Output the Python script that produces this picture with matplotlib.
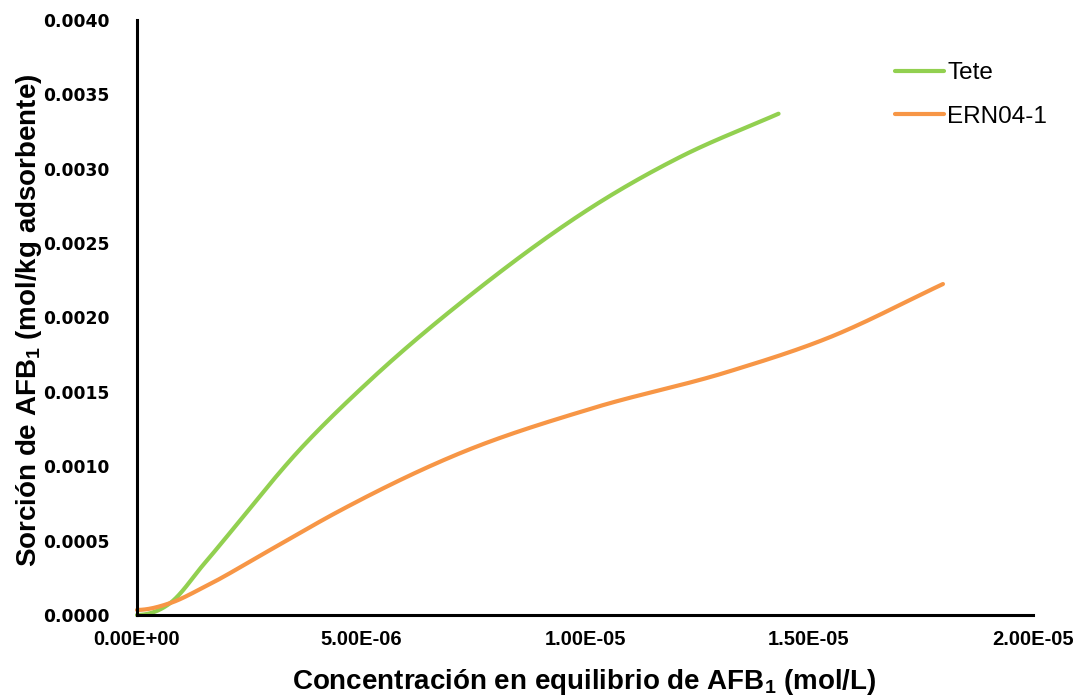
import numpy as np
import matplotlib
matplotlib.use("Agg")
import matplotlib.pyplot as plt
from matplotlib.ticker import FuncFormatter

plt.rcParams["mathtext.fontset"] = "custom"
plt.rcParams["mathtext.rm"] = "Liberation Sans:bold"
plt.rcParams["mathtext.default"] = "rm"

# Equilibrium concentration (mol/L) and sorbed amount (mol/kg adsorbent)
tete_x = [0.0, 7.4e-7, 1.50e-6, 3.73e-6, 5.21e-6, 7.44e-6, 1.057e-5, 1.213e-5, 1.432e-5]
tete_y = [0.0, 8.0e-5, 3.45e-4, 1.143e-3, 1.58e-3, 2.15e-3, 2.82e-3, 3.08e-3, 3.37e-3]

ern_x = [0.0, 7.4e-7, 1.50e-6, 2.97e-6, 4.47e-6, 7.22e-6, 1.019e-5, 1.318e-5, 1.542e-5, 1.799e-5]
ern_y = [3.4e-5, 8.0e-5, 1.88e-4, 4.37e-4, 6.92e-4, 1.089e-3, 1.392e-3, 1.634e-3, 1.862e-3, 2.225e-3]

series_names = ["Tete", "ERN04-1"]
series_colors = ["#92D050", "#F79646"]

x_ticks = [0.0, 5e-6, 1e-5, 1.5e-5, 2e-5]
y_ticks = [0.0, 0.0005, 0.0010, 0.0015, 0.0020, 0.0025, 0.0030, 0.0035, 0.0040]


def smooth(xs, ys, n=60):
    """Smoothed line: cubic Hermite segments through the points, flat at the origin."""
    x = np.asarray(xs, float)
    y = np.asarray(ys, float)
    h = np.diff(x)
    d = np.diff(y) / h
    m = np.empty_like(x)
    m[1:-1] = (h[:-1] * d[1:] + h[1:] * d[:-1]) / (h[:-1] + h[1:])
    m[0] = 0.0
    m[-1] = d[-1]
    px, py = [], []
    t = np.linspace(0, 1, n)
    for i in range(len(x) - 1):
        h00 = 2 * t**3 - 3 * t**2 + 1
        h10 = t**3 - 2 * t**2 + t
        h01 = -2 * t**3 + 3 * t**2
        h11 = t**3 - t**2
        seg_y = h00 * y[i] + h10 * h[i] * m[i] + h01 * y[i + 1] + h11 * h[i] * m[i + 1]
        seg_x = x[i] + t * h[i]
        start = 0 if i == 0 else 1
        px.append(seg_x[start:])
        py.append(seg_y[start:])
    return np.concatenate(px), np.concatenate(py)


fig = plt.figure(figsize=(10.78, 7.0), dpi=100)
ax = fig.add_axes([137 / 1078, 1 - 615 / 700, (1033 - 137) / 1078, (615 - 20) / 700])

for xs, ys, name, col in zip([tete_x, ern_x], [tete_y, ern_y], series_names, series_colors):
    sx, sy = smooth(xs, ys)
    ax.plot(sx, sy, color=col, lw=3.0, solid_capstyle="round", label=name, clip_on=False)

ax.set_xlim(0, 2e-5)
ax.set_ylim(0, 0.004)
ax.set_xticks(x_ticks)
ax.set_yticks(y_ticks)
ax.xaxis.set_major_formatter(FuncFormatter(lambda v, _: f"{v:.2E}"))
ax.yaxis.set_major_formatter(FuncFormatter(lambda v, _: f"{v:.4f}"))

for side in ["top", "right"]:
    ax.spines[side].set_visible(False)
for side in ["left", "bottom"]:
    ax.spines[side].set_linewidth(2.2)
    ax.spines[side].set_color("black")

ax.tick_params(axis="both", length=0)
ax.tick_params(axis="x", pad=11)
ax.tick_params(axis="y", pad=19.5)
for lab in ax.get_xticklabels():
    lab.set_fontfamily("Liberation Sans")
    lab.set_fontweight("bold")
    lab.set_fontsize(14.5)
for lab in ax.get_yticklabels():
    lab.set_fontfamily("DejaVu Sans")
    lab.set_fontweight("bold")
    lab.set_fontsize(12.3)

fig.text(584 / 1078, 1 - 682 / 700, r"Concentración en equilibrio de AFB$_\mathrm{1}$ (mol/L)",
         ha="center", va="center", fontsize=20, fontweight="bold", family="Liberation Sans")
fig.text(29 / 1078, 1 - 320 / 700, r"Sorción de AFB$_\mathrm{1}$ (mol/kg adsorbente)",
         ha="center", va="center", rotation=90, fontsize=20, fontweight="bold", family="Liberation Sans")

leg = ax.legend(loc="upper left", bbox_to_anchor=(895 / 1078, 1 - 62 / 700), bbox_transform=fig.transFigure,
                frameon=False, prop={"family": "Liberation Sans", "size": 17.5},
                handlelength=2.0, handletextpad=0.15, labelspacing=0.9, borderpad=0, borderaxespad=0)
for h in leg.get_lines():
    h.set_linewidth(3.0)
    h.set_solid_capstyle("round")

fig.savefig("out.png", dpi=100, facecolor="white")
